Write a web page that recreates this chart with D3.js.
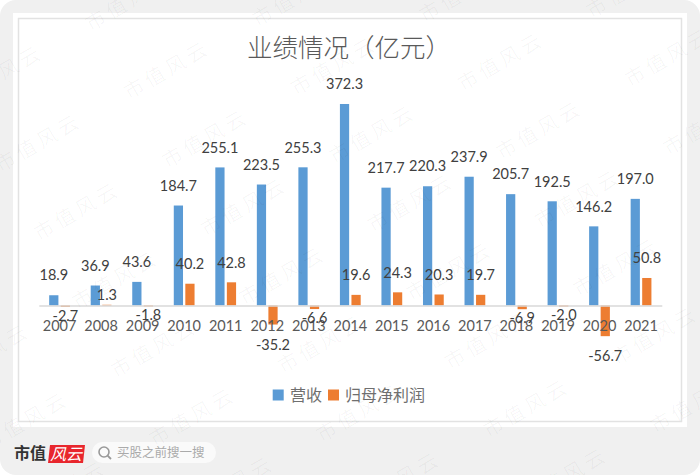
<!DOCTYPE html>
<html>
<head>
<meta charset="utf-8">
<script src="https://cdn.jsdelivr.net/npm/d3@7/dist/d3.min.js"></script>
<style>
  html, body { margin: 0; padding: 0; background: #fff; }
  svg { display: block; }
  text { font-family: Lato, "Noto Sans", sans-serif; }
  .cjk { font-family: "Noto Sans CJK SC", sans-serif; }
</style>
</head>
<body>
<div id="chart"></div>
<script>
const years = ["2007","2008","2009","2010","2011","2012","2013","2014","2015","2016","2017","2018","2019","2020","2021"];
const revenue = [18.9,36.9,43.6,184.7,255.1,223.5,255.3,372.3,217.7,220.3,237.9,205.7,192.5,146.2,197.0];
const netProfit = [-2.7,1.3,-1.8,40.2,42.8,-35.2,-6.6,19.6,24.3,20.3,19.7,-6.9,-2.0,-56.7,50.8];
const seriesNames = ["营收","归母净利润"];
const seriesColors = ["#5b9bd5","#ed7d31"];
const title = "业绩情况（亿元）";
const watermark = "市值风云";

const width = 700, height = 475;
const svg = d3.select("#chart").append("svg").attr("width", width).attr("height", height);

// page frame
svg.append("rect").attr("width", width).attr("height", height).attr("rx", 16).attr("fill", "#f0f0f0");
svg.append("rect").attr("x", 13).attr("y", 13).attr("width", 674).attr("height", 414).attr("fill", "#fff");
svg.append("rect").attr("x", 18.5).attr("y", 18.5).attr("width", 663).attr("height", 403)
  .attr("fill", "none").attr("stroke", "#e2e2e2").attr("stroke-width", 1.5);

// scales
const x = d3.scaleBand().domain(years).range([38.8, 661.8]).paddingInner(0.5).paddingOuter(0.25);
const x1 = d3.scaleBand().domain(seriesNames).range([0, x.bandwidth()]).paddingInner(0.2);
const y = d3.scaleLinear().domain([-100, 400]).range([359.6, 89]);

// bars
const series = [revenue, netProfit];
series.forEach((vals, s) => {
  svg.append("g").selectAll("rect").data(vals).enter().append("rect")
    .attr("x", (d, i) => x(years[i]) + x1(seriesNames[s]))
    .attr("y", d => y(Math.max(d, 0)))
    .attr("width", x1.bandwidth())
    .attr("height", d => Math.abs(y(d) - y(0)))
    .attr("fill", seriesColors[s]);
});

// axis
const axis = svg.append("g").attr("transform", "translate(0," + y(0) + ")")
  .call(d3.axisBottom(x).tickSize(0).tickPadding(15));
axis.select(".domain").attr("stroke", "#d9d9d9").attr("stroke-width", 1.5);
axis.selectAll("text").attr("font-size", 14.5).attr("fill", "#595959")
  .style("font-family", 'Lato, "Noto Sans", sans-serif');

// gap between bar end and label centre, small values sit closer
function labelGap(d, s) {
  if (s === 0 || Math.abs(d) >= 10) return 20;
  return d < 0 ? 8.5 : 10;
}

series.forEach((vals, s) => {
  svg.append("g").selectAll("text").data(vals).enter().append("text")
    .attr("x", (d, i) => x(years[i]) + x1(seriesNames[s]) + x1.bandwidth() / 2)
    .attr("y", (d, i) => y(d) + (d < 0 ? 1 : -1) * labelGap(d, s))
    .attr("dy", "0.36em")
    .attr("text-anchor", "middle")
    .attr("font-size", 14.5)
    .attr("fill", "#404040")
    .text(d => d.toFixed(1));
});

// title
svg.append("text").attr("class", "cjk").attr("x", 247).attr("y", 57)
  .attr("font-size", 25.5).attr("font-weight", 300).attr("fill", "#595959").text(title);

// legend
const legendSwatch = [272.7, 328];
const legendText = [290, 345];
seriesNames.forEach((name, s) => {
  svg.append("rect").attr("x", legendSwatch[s]).attr("y", 389.5).attr("width", 11).attr("height", 11)
    .attr("fill", seriesColors[s]);
  svg.append("text").attr("class", "cjk").attr("x", legendText[s]).attr("y", 401)
    .attr("font-size", 16).attr("fill", "#6f6f6f").text(name);
});

// footer logo and search box
svg.append("text").attr("class", "cjk").attr("x", 14).attr("y", 459)
  .attr("font-size", 16).attr("font-weight", 700).attr("fill", "#333").text("市值");
svg.append("path").attr("d", "M50,445H85L83,463H48Z").attr("fill", "#e8262d");
svg.append("text").attr("class", "cjk").attr("x", 66).attr("y", 459.5).attr("text-anchor", "middle")
  .attr("font-size", 16).attr("fill", "#fff").attr("font-style", "italic").text("风云");
svg.append("rect").attr("x", 92).attr("y", 442).attr("width", 124).attr("height", 21).attr("rx", 10.5).attr("fill", "#fafafa");
svg.append("circle").attr("cx", 104).attr("cy", 452).attr("r", 5).attr("fill", "none").attr("stroke", "#999").attr("stroke-width", 1.6);
svg.append("line").attr("x1", 107.6).attr("y1", 455.6).attr("x2", 111).attr("y2", 459).attr("stroke", "#999").attr("stroke-width", 1.8);
svg.append("text").attr("class", "cjk").attr("x", 117).attr("y", 457)
  .attr("font-size", 12.5).attr("fill", "#aaa").text("买股之前搜一搜");

// watermark lattice on top of everything
const wm = svg.append("g").attr("pointer-events", "none");
for (let i = -3; i <= 5; i++) {
  for (let j = -3; j <= 7; j++) {
    const wx = 167 + i * 167 + j * 38.5;
    const wy = 70 - i * 4.3 + j * 68.5;
    if (wx < -50 || wx > 750 || wy < -40 || wy > 515) continue;
    wm.append("text").attr("class", "cjk")
      .attr("transform", "translate(" + wx + "," + wy + ") rotate(-30)")
      .attr("text-anchor", "middle").attr("dy", "0.35em")
      .attr("font-size", 20).attr("letter-spacing", 4)
      .attr("fill", "rgba(0,0,0,0.035)").text(watermark);
  }
}
</script>
</body>
</html>
